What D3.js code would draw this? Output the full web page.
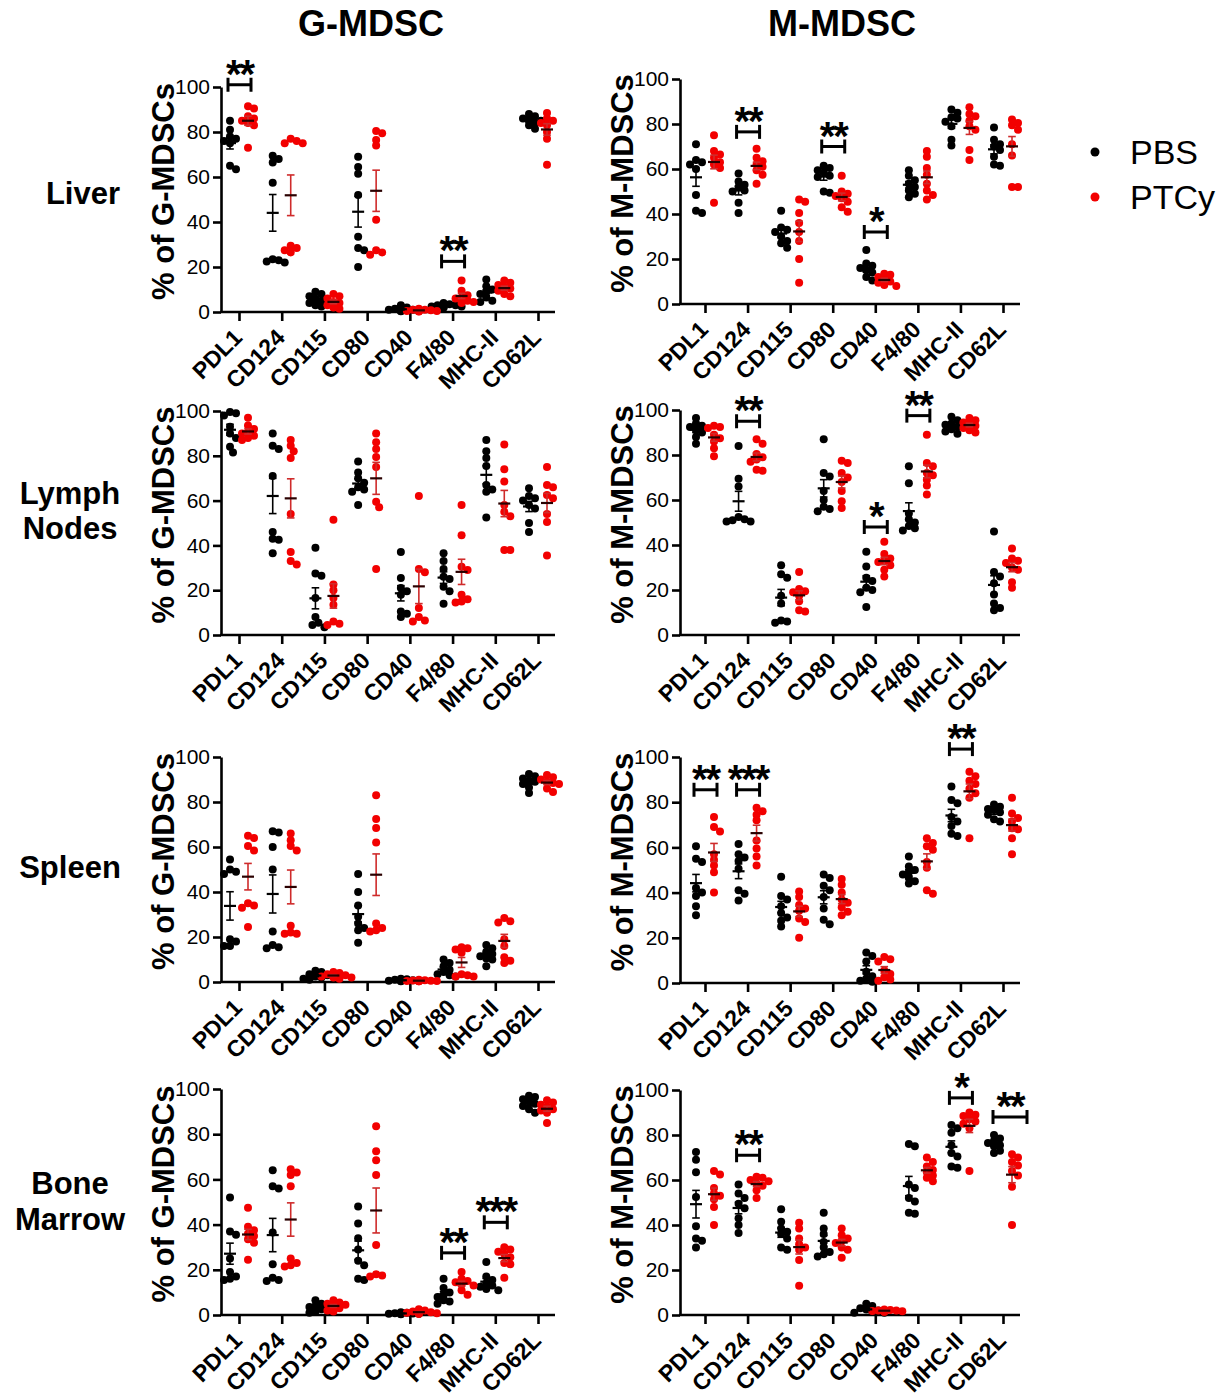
<!DOCTYPE html>
<html><head><meta charset="utf-8">
<script src="https://cdn.jsdelivr.net/npm/d3@7"></script>
<style>body{margin:0;background:#fff}</style>
</head><body><svg id="c" width="1228" height="1397"></svg>
<script>
// ---------------- DATA ----------------
const categories = ["PDL1","CD124","CD115","CD80","CD40","F4/80","MHC-II","CD62L"];
const tissues = ["Liver","Lymph Nodes","Spleen","Bone Marrow"];
const cellTypes = ["G-MDSC","M-MDSC"];
const yTitles = ["% of G-MDSCs","% of M-MDSCs"];
const groups = ["PBS","PTCy"];
const yTicks = [0,20,40,60,80,100];

// each array: one list of per-mouse values per category (order = categories)
const liverG_PBS = [[85,81,78,77,76,75,65,63.5],[69.5,68,66.5,57.5,23.5,23,22.5,22],[9,8,7,6,5,4,3,2.5],[69,64.5,61.5,52,33.5,28.5,27.5,20],[3,2,1.5,1,1,0.5,0.5,0.3],[4,3.5,3,3,2.5,2.5,2,2],[14.5,11.5,10,9,8,6.5,5,4.5],[88,87,86,85.5,85,84,83,81.5]];
const liverG_PTCy = [[91.5,90.5,87,86,85,84,83,73],[77,76,75,75,29.5,28.5,27.5,26.5],[8,7,6,4.5,4,3,2,1.5],[80.5,79.5,76.5,74,41,27.5,26.5,25.5],[1.5,1,1,0.8,0.5,0.5,0.3,0.2],[14,9.5,7.5,6.5,6,5,4.5,4],[14,13,12,11,10.5,9.5,8,7],[88.5,86,85,84,83,80,77,65.5]];
const liverM_PBS = [[71,64,63,62,60,48.5,41.5,40.5],[58,54.5,53,52,50.5,50,45,40.5],[41.5,34,33,32,30,28,27,25],[61.5,60.5,59.5,58.5,57,56.5,50,49.5],[24,18,17,16,15,14,12,10.5],[59.5,57,55,53.5,52,50.5,49,47.5],[86.5,85,83,82.5,81,79,73,70.5],[78.5,73,71,70,68.5,65.5,62,61.5]];
const liverM_PTCy = [[75,68,66.5,65,63,62,60.5,45],[69,65,63.5,62,61,59.5,57.5,53.5],[46.5,45.5,40.5,36,32,28,20,9.5],[57,50,49,48,47,45.5,43,41],[13.5,13,12,11,10,9.5,8.5,8],[68,65.5,60.5,57.5,53.5,50.5,48.5,46.5],[87.5,84.5,83.5,81.5,79,77.5,68.5,64],[82,80.5,79.5,77.5,71,66,52,52]];
const lymphG_PBS = [[99.5,99,98,93,90,88,84,81.5],[90,84.5,83,71,46,43,42.5,36.5],[39,27.5,26.5,16.5,8,5.5,4.5,3.5],[77.5,72.5,70,68,66,65,64,58],[37,25.5,21,19.5,18,10.5,9.5,8],[36.5,33,29.5,26,25,21.5,19.5,14],[87,82,79,75.5,67,65,64,52.5],[65.5,62,61,60,58,56.5,50,46]];
const lymphG_PTCy = [[97,93.5,92,90.5,90,89,88,87],[87,84.5,82,79,54,37,33,31.5],[51.5,22.5,20,16.5,13.5,6,5,4.5],[90,86,83,79.5,75,59.5,57,29.5],[62,29.5,28,12,8,6.5,6],[58,44.5,30.5,29,18,16,15,14.5],[85,74,68.5,58,55,53,38,38],[75,67,66,62.5,61,54,50.5,35.5]];
const lymphM_PBS = [[96.5,94,93,92.5,91,90,88,85],[84,69.5,66,52.5,51.5,51,50.5,50.5],[31,27,25.5,17.5,14,6.5,6,5.5],[87,72,70.5,64,60,57,56,55],[37,30.5,25.5,24,21,20,19,12.5],[75,67.5,54,51.5,50,48.5,47.5,46.5],[97,95.5,94,93.5,92.5,91.5,90.5,89.5],[46,28,26,23,18,14,12,11]];
const lymphM_PTCy = [[93,92.5,92,89,87.5,86,83,79.5],[87,85,80.5,79,78,77,73.5,73],[28,20.5,19.5,19,17.5,15,11,10.5],[77.5,76.5,72,70,68,64,59.5,56.5],[41.5,36,34,33,32.5,31,29,26],[89,76.5,75,72,71,69,66.5,62.5],[96.5,95.5,94.5,94,93,92,91,90],[38.5,34,33,32,30,29,23.5,21]];
const spleenG_PBS = [[54.5,50,49,48,19,18,16,16],[67,66.5,60,50,22.5,16.5,15.5,15],[5,4.5,3.5,3,2.5,2,1.5,1],[48,40,34,29,26,24,23,17.5],[1.5,1.2,1,0.8,0.6,0.5,0.4,0.3],[10,8.5,7,5.5,4.5,3.5,3,2.5],[16.5,15,13.5,12.5,11.5,10.5,10,7],[92.5,91.5,90.5,89.5,89,88,86.5,84]];
const spleenG_PTCy = [[65,64,60.5,58.5,35,34,33,24.5],[66,63,60.5,58.5,25,22,21.5,21.5],[4.5,4,3.5,3,2.5,2,2,1.5],[83,72.5,68.5,62,26,24,23,22.5],[1,0.8,0.7,0.6,0.5,0.4,0.3,0.3],[15.5,15,14.5,13,3.5,3,2.5,2.5],[28.5,27,26.5,19,16,11,9.5,8.5],[92,91,90,89,88.5,88,86,84.5]];
const spleenM_PBS = [[60.5,55,53.5,42,40,38.5,34,30],[61.5,57,55.5,54,50.5,41,39.5,36.5],[47,38.5,37,34,31,29,27.5,25],[48,46.5,43,41,38,33,28,26],[13.5,12,9.5,5,3,2,1,0.5],[56,51.5,50,49,48,46.5,45,44],[87,81,79.5,73.5,71.5,69.5,66,65],[79,78,77,76.5,75.5,74.5,72.5,71.5]];
const spleenM_PTCy = [[73.5,69,67,57,54.5,52,49,40],[77.5,76,74.5,72,63,59.5,56,52],[40.5,38,34.5,33,32,28.5,27,20],[46,43.5,40,37,35.5,33.5,31.5,30],[11.5,10.5,9.5,5.5,4,2.5,1.5,1],[64,62,60.5,59,53.5,51,41,39.5],[93.5,91.5,89.5,88,86,84,82,64],[82,75,73,71.5,68.5,68,64,57]];
const boneG_PBS = [[52,37,35.5,25,19,17,16,15.5],[64,57,56,36.5,22.5,16.5,15.5,15],[6.5,5,4,3.5,2.5,2,1.5,1],[48,40.5,34,29,24,22,16,15.5],[1.2,1,0.8,0.7,0.6,0.5,0.4,0.3],[16,12,10,9,8,6.5,6,5],[23.5,17,15.5,14,13,12.5,11.5,11],[97,96.5,95.5,94.5,93.5,92.5,91,89.5]];
const boneG_PTCy = [[47.5,39,37.5,36,35,33.5,32,24.5],[64.5,63,62,57,25,23,22,21.5],[6.5,5.5,5,4.5,4,3,2,1.5],[83.5,72.5,68.5,62,31,18,17.5,17],[2.5,2,1.5,1.2,1,0.8,0.6,0.5],[19,16,15,14.5,13.5,13,11,9],[30,29,28,27,25.5,23,22.5,16.5],[95,94,93,92,91,90.5,89.5,85]];
const boneM_PBS = [[72.5,69,63.5,52.5,39.5,34,33,30],[58,54,52,49.5,47.5,43,40,36.5],[47,41.5,38.5,37,36,34,30,29],[45.5,38.5,36,32.5,30,28,27,26],[5,4,3,2.5,2,1.5,1,1],[76,75,58,56.5,52,50.5,45.5,45],[84.5,83,81,75.5,72,70.5,66,65.5],[80,78.5,77.5,76.5,75.5,75,73,72]];
const boneM_PTCy = [[64,62.5,56.5,54,53,51.5,48,40],[61.5,61,60,59.5,58.5,57.5,55.5,52],[41,38.5,34,31.5,30,29,24.5,13],[38.5,35.5,34,33,32,30,29,25.5],[2.5,2.2,2,2,1.8,1.7,1.5,1.5],[70,68,66,64.5,63.5,62,61,59.5],[90,89,88.5,87,86,85,83,64],[71.5,70,68,66.5,64,62,57,40]];

// significance brackets: category, bracket level (% value), stars
const liverG_sig = [{cat:"PDL1",level:101,stars:"**"},{cat:"F4/80",level:22.5,stars:"**"}];
const liverM_sig = [{cat:"CD124",level:76.5,stars:"**"},{cat:"CD80",level:70,stars:"**"},{cat:"CD40",level:32,stars:"*"}];
const lymphG_sig = [];
const lymphM_sig = [{cat:"CD124",level:95,stars:"**"},{cat:"CD40",level:48,stars:"*"},{cat:"F4/80",level:97.5,stars:"**"}];
const spleenG_sig = [];
const spleenM_sig = [{cat:"PDL1",level:85.5,stars:"**"},{cat:"CD124",level:85.5,stars:"***"},{cat:"MHC-II",level:103.5,stars:"**"}];
const boneG_sig = [{cat:"F4/80",level:27.5,stars:"**"},{cat:"MHC-II",level:41,stars:"***"}];
const boneM_sig = [{cat:"CD124",level:71,stars:"**"},{cat:"MHC-II",level:96.5,stars:"*"},{cat:"CD62L",level:88,stars:"**"}];

const panels = [
  {row:0,col:0,pbs:liverG_PBS,ptcy:liverG_PTCy,sig:liverG_sig},
  {row:0,col:1,pbs:liverM_PBS,ptcy:liverM_PTCy,sig:liverM_sig},
  {row:1,col:0,pbs:lymphG_PBS,ptcy:lymphG_PTCy,sig:lymphG_sig},
  {row:1,col:1,pbs:lymphM_PBS,ptcy:lymphM_PTCy,sig:lymphM_sig},
  {row:2,col:0,pbs:spleenG_PBS,ptcy:spleenG_PTCy,sig:spleenG_sig},
  {row:2,col:1,pbs:spleenM_PBS,ptcy:spleenM_PTCy,sig:spleenM_sig},
  {row:3,col:0,pbs:boneG_PBS,ptcy:boneG_PTCy,sig:boneG_sig},
  {row:3,col:1,pbs:boneM_PBS,ptcy:boneM_PTCy,sig:boneM_sig}
];

// ---------------- LAYOUT / STYLE ----------------
const FONT = '"Liberation Sans", Arial, Helvetica, sans-serif';
const BLACK = "#000000", RED = "#f20000";
const groupColor = [BLACK, RED];
const semColor = ["#000000", "#cf2b2b"];
const meanColor = ["#000000", "#2a0000"];
const rowY = [
  [[87,312],[79,304]],
  [[411,635],[410,635]],
  [[757,982],[757,983]],
  [[1089,1315],[1090,1315]]
];
const colGeom = [
  {axisX:221, t0:239, t1:538, xEnd:555, titleX:174},
  {axisX:680, t0:705, t1:1003, xEnd:1020, titleX:633}
];
const rowLabelPos = [
  {lines:["Liver"], x:83, y:[204]},
  {lines:["Lymph","Nodes"], x:70, y:[504,539]},
  {lines:["Spleen"], x:70, y:[878]},
  {lines:["Bone","Marrow"], x:70, y:[1194,1230]}
];
const wideBracket = {"3-1-CD62L": [ -10, 24 ]};

const svg = d3.select("#c");
svg.append("rect").attr("width",1228).attr("height",1397).attr("fill","#fff");

// column titles
[371, 842].forEach((cx,i)=>{
  svg.append("text").attr("x",cx).attr("y",36).attr("text-anchor","middle")
    .attr("font-family",FONT).attr("font-weight","bold").attr("font-size",36)
    .text(cellTypes[i]);
});

// row labels
rowLabelPos.forEach((r)=>{
  r.lines.forEach((ln,j)=>{
    svg.append("text").attr("x",r.x).attr("y",r.y[j]).attr("text-anchor","middle")
      .attr("font-family",FONT).attr("font-weight","bold").attr("font-size",31)
      .text(ln);
  });
});

// legend
const legY = [152,197];
groups.forEach((gname,i)=>{
  svg.append("circle").attr("cx",1095).attr("cy",legY[i]).attr("r",4.5).attr("fill",groupColor[i]);
  svg.append("text").attr("x",1130).attr("y",legY[i]+12).attr("font-family",FONT)
    .attr("font-size",34).attr("fill","#000").text(gname);
});

function swarm(vals, y, cx){
  const pts = vals.map(v=>({v, py:y(v)})).sort((a,b)=>a.py-b.py);
  const placed = [];
  const step = 3.0, minD = 5.6;
  pts.forEach(p=>{
    for(let k=0;k<12;k++){
      const m = k===0?0:(k%2===1?Math.ceil(k/2):-Math.ceil(k/2));
      const dx = m*step;
      const ok = placed.every(q=>((dx-q.dx)**2+(p.py-q.py)**2)>=minD*minD);
      if(ok){p.dx=dx;break;}
    }
    if(p.dx===undefined) p.dx=0;
    placed.push(p);
  });
  return pts.map(p=>({cx:cx+p.dx, cy:p.py}));
}

panels.forEach(p=>{
  const geom = colGeom[p.col];
  const [top,bottom] = rowY[p.row][p.col];
  const g = svg.append("g");
  const y = d3.scaleLinear().domain([0,100]).range([bottom,top]);
  const x = d3.scalePoint().domain(categories).range([geom.t0, geom.t1]);

  // y axis
  const ya = g.append("g").attr("transform",`translate(${geom.axisX},0)`)
    .call(d3.axisLeft(y).tickValues(yTicks).tickSize(8).tickSizeOuter(0).tickPadding(3).tickFormat(d3.format("d")));
  ya.selectAll("path,line").attr("stroke","#000").attr("stroke-width",2.6);
  ya.selectAll("text").attr("font-family",FONT).attr("font-size",21).attr("fill","#000");

  // baseline
  g.append("line").attr("x1",geom.axisX-1).attr("x2",geom.xEnd).attr("y1",y(0)).attr("y2",y(0))
    .attr("stroke","#000").attr("stroke-width",2.6);

  // x axis ticks + labels
  const xa = g.append("g").attr("transform",`translate(0,${y(0)})`)
    .call(d3.axisBottom(x).tickSize(9).tickSizeOuter(0));
  xa.select(".domain").remove();
  xa.selectAll("line").attr("stroke","#000").attr("stroke-width",2.6);
  xa.selectAll("text").attr("x",0).attr("y",0).attr("dy",0)
    .attr("text-anchor","end").attr("transform","translate(4,27) rotate(-45)")
    .attr("font-family",FONT).attr("font-weight","bold").attr("font-size",23).attr("fill","#000");

  // y title
  g.append("text").attr("transform",`translate(${geom.titleX},${(top+bottom)/2-8}) rotate(-90)`)
    .attr("text-anchor","middle").attr("font-family",FONT).attr("font-weight","bold")
    .attr("font-size",31).attr("fill","#000").text(yTitles[p.col]);

  // data
  [p.pbs, p.ptcy].forEach((series,gi)=>{
    const off = gi===0?-9:9;
    series.forEach((vals,ci)=>{
      const cx = x(categories[ci]) + off;
      const pos = swarm(vals, y, cx);
      g.selectAll(null).data(pos).enter().append("circle")
        .attr("cx",d=>d.cx).attr("cy",d=>d.cy).attr("r",4).attr("fill",groupColor[gi]);
    });
  });
  [p.pbs, p.ptcy].forEach((series,gi)=>{
    const off = gi===0?-9:9;
    series.forEach((vals,ci)=>{
      const cx = x(categories[ci]) + off;
      const m = d3.mean(vals);
      const se = d3.deviation(vals)/Math.sqrt(vals.length);
      const eg = g.append("g");
      eg.append("line").attr("x1",cx).attr("x2",cx).attr("y1",y(m-se)).attr("y2",y(m+se))
        .attr("stroke",semColor[gi]).attr("stroke-width",1.6);
      [m-se,m+se].forEach(v=>{
        eg.append("line").attr("x1",cx-3.8).attr("x2",cx+3.8).attr("y1",y(v)).attr("y2",y(v))
          .attr("stroke",semColor[gi]).attr("stroke-width",1.6);
      });
      eg.append("line").attr("x1",cx-6).attr("x2",cx+6).attr("y1",y(m)).attr("y2",y(m))
        .attr("stroke",meanColor[gi]).attr("stroke-width",2.2);
    });
  });

  // significance
  p.sig.forEach(s=>{
    const tx = x(s.cat);
    const span = wideBracket[`${p.row}-${p.col}-${s.cat}`] || [-11,12];
    const x1 = tx+span[0], x2 = tx+span[1];
    const by = y(s.level);
    const sg = g.append("g").attr("stroke","#000").attr("stroke-width",3);
    sg.append("line").attr("x1",x1).attr("x2",x2).attr("y1",by).attr("y2",by);
    sg.append("line").attr("x1",x1).attr("x2",x1).attr("y1",by-7).attr("y2",by+7);
    sg.append("line").attr("x1",x2).attr("x2",x2).attr("y1",by-7).attr("y2",by+7);
    g.append("text").attr("x",(x1+x2)/2).attr("y",by+3).attr("text-anchor","middle")
      .attr("font-family",FONT).attr("font-weight","bold").attr("font-size",40).attr("fill","#000")
      .attr("letter-spacing",-2)
      .text(s.stars);
  });
});
</script></body></html>
